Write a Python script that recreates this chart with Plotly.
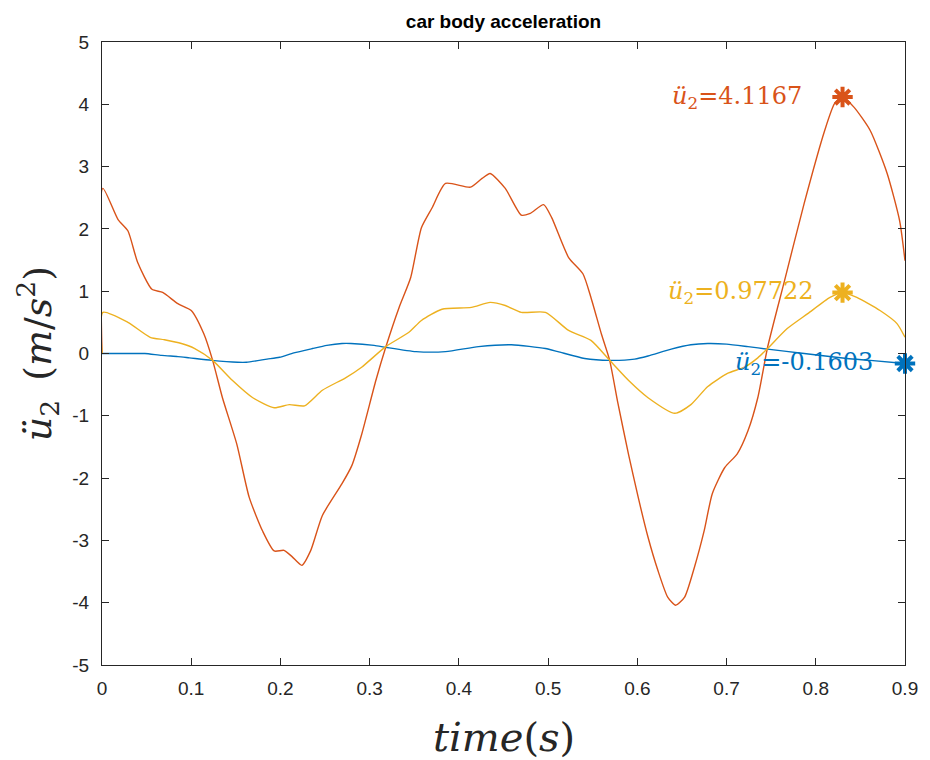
import plotly.graph_objects as go

# ---- time axis samples and body accelerations (m/s^2) ----
t_blue = [0, 0.037, 0.048, 0.067, 0.085, 0.098, 0.123, 0.152, 0.162, 0.185, 0.199, 0.215,
          0.236, 0.252, 0.269, 0.279, 0.305, 0.318, 0.352, 0.385, 0.422, 0.459, 0.497, 0.511,
          0.541, 0.569, 0.597, 0.612, 0.638, 0.660, 0.679, 0.700, 0.724, 0.746, 0.787, 0.835,
          0.861, 0.9]
acc_blue = [0.0, 0.0, 0.0, -0.03, -0.05, -0.07, -0.11, -0.14, -0.14, -0.09, -0.06, 0.01,
            0.08, 0.13, 0.16, 0.16, 0.13, 0.10, 0.03, 0.03, 0.11, 0.14, 0.08, 0.03,
            -0.08, -0.11, -0.09, -0.04, 0.07, 0.14, 0.16, 0.15, 0.11, 0.07, 0.0, -0.08,
            -0.11, -0.1603]

t_yellow = [0, 0.001, 0.029, 0.054, 0.070, 0.089, 0.104, 0.124, 0.146, 0.169, 0.193, 0.210,
            0.227, 0.247, 0.273, 0.291, 0.318, 0.344, 0.358, 0.381, 0.414, 0.435, 0.452, 0.470,
            0.497, 0.523, 0.548, 0.569, 0.590, 0.612, 0.642, 0.660, 0.679, 0.701, 0.720, 0.735,
            0.746, 0.768, 0.791, 0.816, 0.830, 0.846, 0.872, 0.891, 0.9]
acc_yellow = [0.0, 0.66, 0.50, 0.26, 0.22, 0.16, 0.08, -0.11, -0.43, -0.71, -0.87, -0.82,
              -0.84, -0.59, -0.39, -0.22, 0.11, 0.34, 0.53, 0.71, 0.74, 0.82, 0.77, 0.66,
              0.66, 0.37, 0.21, -0.11, -0.43, -0.71, -0.96, -0.82, -0.53, -0.32, -0.22, -0.07,
              0.08, 0.40, 0.64, 0.90, 0.97722, 0.90, 0.69, 0.48, 0.26]

t_red = [0, 0.001, 0.018, 0.029, 0.040, 0.056, 0.068, 0.085, 0.100, 0.114, 0.124, 0.135,
         0.151, 0.165, 0.180, 0.193, 0.204, 0.213, 0.224, 0.234, 0.247, 0.269, 0.280, 0.291,
         0.307, 0.318, 0.333, 0.346, 0.358, 0.370, 0.385, 0.413, 0.426, 0.435, 0.452, 0.470,
         0.480, 0.495, 0.504, 0.523, 0.539, 0.548, 0.560, 0.569, 0.578, 0.590, 0.601, 0.612,
         0.623, 0.634, 0.643, 0.653, 0.664, 0.675, 0.684, 0.698, 0.712, 0.724, 0.735, 0.746,
         0.765, 0.787, 0.810, 0.821, 0.830, 0.843, 0.861, 0.880, 0.894, 0.9]
acc_red = [0.0, 2.65, 2.15, 1.97, 1.46, 1.03, 0.98, 0.80, 0.69, 0.32, -0.11, -0.71,
           -1.45, -2.31, -2.85, -3.17, -3.16, -3.26, -3.40, -3.16, -2.60, -2.09, -1.80, -1.30,
           -0.43, 0.10, 0.74, 1.22, 2.02, 2.34, 2.73, 2.67, 2.81, 2.89, 2.65, 2.22,
           2.25, 2.39, 2.18, 1.54, 1.28, 0.90, 0.30, -0.11, -0.78, -1.61, -2.31, -2.95,
           -3.48, -3.91, -4.04, -3.91, -3.43, -2.84, -2.25, -1.83, -1.61, -1.24, -0.71, 0.10,
           1.17, 2.41, 3.58, 4.01, 4.1167, 3.95, 3.58, 2.89, 2.13, 1.49]

# highlighted points: (time, value) for each series
peak_times = [0.9, 0.830, 0.830]
peak_values = [-0.1603, 4.1167, 0.97722]
peak_label_x = [0.866, 0.787, 0.800]

colors = ["#0072BD", "#D95319", "#EDB120"]

x_ticks = [0, 0.1, 0.2, 0.3, 0.4, 0.5, 0.6, 0.7, 0.8, 0.9]
x_tick_text = ["0", "0.1", "0.2", "0.3", "0.4", "0.5", "0.6", "0.7", "0.8", "0.9"]
y_ticks = [-5, -4, -3, -2, -1, 0, 1, 2, 3, 4, 5]
y_tick_text = [str(v) for v in y_ticks]

fig = go.Figure()

series = [(t_blue, acc_blue), (t_red, acc_red), (t_yellow, acc_yellow)]
for (t, a), c in zip(series, colors):
    fig.add_trace(go.Scatter(x=t, y=a, mode="lines",
                             line=dict(color=c, width=1.4, shape="spline", smoothing=0.6),
                             showlegend=False, hoverinfo="skip"))

for tx, v, c in zip(peak_times, peak_values, colors):
    fig.add_trace(go.Scatter(x=[tx], y=[v], mode="markers", cliponaxis=False,
                             marker=dict(symbol="asterisk-open", size=17, color=c,
                                         line=dict(color=c, width=4)),
                             showlegend=False, hoverinfo="skip"))

serif = "DejaVu Serif, Liberation Serif, serif"
sans = "Liberation Sans, Arial, Helvetica, sans-serif"

for lx, v, c in zip(peak_label_x, peak_values, colors):
    fig.add_annotation(x=lx, y=v, xref="x", yref="y",
                       text=f"<i>ü</i><sub>2</sub>={v:g}",
                       showarrow=False, xanchor="right", yanchor="middle",
                       font=dict(family=serif, size=24, color=c))

# axis titles
fig.add_annotation(x=0.5, y=-0.116, xref="paper", yref="paper",
                   text="<i>time</i>(<i>s</i>)", showarrow=False,
                   xanchor="center", yanchor="middle",
                   font=dict(family=serif, size=40, color="#262626"))
fig.add_annotation(x=-0.080, y=0.5, xref="paper", yref="paper",
                   text="<i>ü</i><sub>2</sub>\u2002(<i>m</i>/<i>s</i><sup>2</sup>)",
                   showarrow=False, textangle=-90,
                   xanchor="center", yanchor="middle",
                   font=dict(family=serif, size=38, color="#262626"))

axis_common = dict(showline=True, linecolor="#262626", linewidth=1, mirror="ticks",
                   ticks="inside", ticklen=7, tickwidth=1, tickcolor="#262626",
                   showgrid=False, zeroline=False,
                   tickfont=dict(family=sans, size=19, color="#262626"))

fig.update_xaxes(range=[0, 0.9], tickvals=x_ticks, ticktext=x_tick_text,
                 ticklabelstandoff=6, **axis_common)
fig.update_yaxes(range=[-5, 5], tickvals=y_ticks, ticktext=y_tick_text,
                 ticklabelstandoff=8, **axis_common)

fig.update_layout(
    width=930, height=760,
    margin=dict(l=102, r=22, t=42, b=95),
    paper_bgcolor="white", plot_bgcolor="white",
    title=dict(text="<b>car body acceleration</b>", x=0.5, xref="paper",
               y=1 - 21 / 760, yref="container", yanchor="middle", xanchor="center",
               font=dict(family=sans, size=19, color="black")),
)

fig.write_html("out.html")
